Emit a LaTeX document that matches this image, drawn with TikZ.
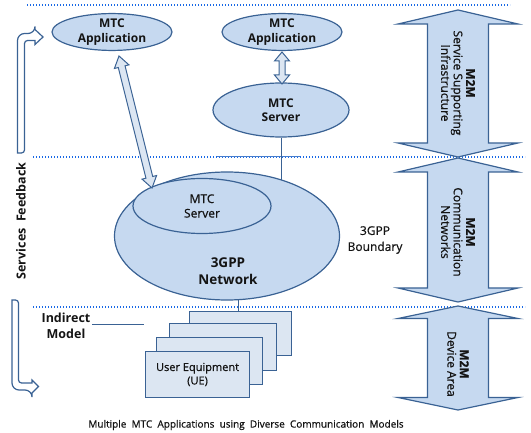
\documentclass[tikz,border=0pt]{standalone}
\usepackage{fontspec}
\setmainfont{Open Sans}
\newfontfamily\medf{Open Sans}[FakeBold=0.7]
\usetikzlibrary{calc,shapes.geometric}
\definecolor{fillA}{RGB}{198,217,240}
\definecolor{fillB}{RGB}{220,230,242}
\definecolor{lineC}{RGB}{58,98,148}
\definecolor{dotC}{RGB}{25,105,230}
\definecolor{segC}{RGB}{70,125,205}
\definecolor{txtC}{RGB}{20,20,20}
\newcommand{\bdarrow}[6][]{%
  \coordinate (ba1) at ($(#2)!#6!(#3)$);
  \coordinate (ba2) at ($(#3)!#6!(#2)$);
  \draw[#1] (#2) -- ($(ba1)!#5!90:(#3)$) -- ($(ba1)!#4!90:(#3)$)
    -- ($(ba2)!#4!-90:(#2)$) -- ($(ba2)!#5!-90:(#2)$) -- (#3)
    -- ($(ba2)!#5!90:(#2)$) -- ($(ba2)!#4!90:(#2)$)
    -- ($(ba1)!#4!-90:(#3)$) -- ($(ba1)!#5!-90:(#3)$) -- cycle;}
\begin{document}
\begin{tikzpicture}[x=1pt,y=-1pt,
  ell/.style={ellipse,draw=lineC,fill=fillA,line width=1.2pt,inner sep=0pt,
    align=center,text=txtC,font=\bfseries\fontsize{12}{14.5}\selectfont},
  uebox/.style={rectangle,draw=lineC,fill=fillB,line width=1.1pt,inner sep=0pt,
    align=center,text=txtC,font=\medf\fontsize{11}{13.5}\selectfont},
  blk/.style={draw=lineC,fill=fillA,line width=1.2pt,line join=miter},
  sblk/.style={draw=lineC,fill=fillB,line width=1pt,line join=miter},
  dotline/.style={dotC,line width=1.5pt,dash pattern=on 1.4pt off 1.6pt},
  conn/.style={lineC,line width=1pt},
  lbl/.style={text=txtC,align=center,inner sep=0pt},
  vlbl/.style={lbl,rotate=-90,font=\medf\fontsize{12}{12.5}\selectfont},
  hollow/.style={draw=lineC,fill=white,line width=1.2pt,line join=miter}]
\useasboundingbox (0,0) rectangle (531,433);

% dotted boundaries
\draw[dotline] (27,5) -- (510,5);
\draw[dotline] (33,157) -- (525,157);
\draw[segC,line width=1pt] (217,157) -- (300,157);
\draw[dotline] (33,307) -- (525,307);

% right block arrows
\coordinate (r1t) at (458,10);  \coordinate (r1b) at (458,157);
\coordinate (r2t) at (458,158); \coordinate (r2b) at (458,302);
\coordinate (r3t) at (458,306); \coordinate (r3b) at (458,410);
\bdarrow[blk]{r1t}{r1b}{30.5pt}{60pt}{14pt}
\bdarrow[blk]{r2t}{r2b}{30.5pt}{60pt}{14pt}
\bdarrow[blk]{r3t}{r3b}{30.5pt}{60pt}{12.5pt}
\node[vlbl] (t1) at (458,83) {\textbf{M2M}\\Service Supporting\\Infrastructure};
\node[vlbl] (t2) at (458,232) {\textbf{M2M}\\Communication\\Networks};
\node[vlbl] (t3) at (458,364) {\textbf{M2M}\\Device Area};

% top ellipses
\node[ell,minimum width=120pt,minimum height=36pt] (app1) at (112,32) {MTC\\Application};
\node[ell,minimum width=120pt,minimum height=36pt] (app2) at (282,32) {MTC\\Application};
\node[ell,minimum width=136pt,minimum height=54pt] (srv1) at (281,110) {MTC\\Server};

% UE stack
\node[uebox,anchor=north west,minimum width=102pt,minimum height=44pt] (ue4) at (189,311) {};
\node[uebox,anchor=north west,minimum width=107pt,minimum height=47pt] (ue3) at (169,323) {};
\node[uebox,anchor=north west,minimum width=106pt,minimum height=47pt] (ue2) at (156,337) {};
\node[uebox,anchor=north west,minimum width=104pt,minimum height=46pt] (ue1) at (145,351) {User Equipment\\(UE)};

% connectors to 3GPP network (drawn under it)
\coordinate (uelink) at (238,311);
\draw[conn] (srv1.south) -- ++(0,60);
\draw[conn] (uelink) -- ++(0,-30);

% 3GPP network
\node[ell,minimum width=225pt,minimum height=128pt] (net) at (227,236) {};
\node[ell,minimum width=138pt,minimum height=55pt,font=\medf\fontsize{12}{14.5}\selectfont] (srv2) at (202,206) {MTC\\Server};
\node[lbl,font=\bfseries\fontsize{13.5}{17}\selectfont] (netl) at (228,271) {3GPP\\Network};
\node[lbl,font=\medf\fontsize{12}{16}\selectfont] (bnd) at (375,240) {3GPP\\Boundary};

% small block double arrows
\coordinate (d1) at (119,56); \coordinate (d2) at (152,188);
\bdarrow[sblk]{d1}{d2}{3.5pt}{7.5pt}{11pt}
\coordinate (v1) at (282,52); \coordinate (v2) at (282,84);
\bdarrow[sblk]{v1}{v2}{3pt}{7.5pt}{9pt}

% indirect model
\node[lbl,font=\bfseries\fontsize{12.5}{16}\selectfont] (ind) at (66,326) {Indirect\\Model};
\coordinate (indend) at (144,325);
\draw[conn] (92,325) -- (indend);

% services feedback
\node[lbl,rotate=90,font=\bfseries\fontsize{12.5}{14}\selectfont] (sf) at (21,221) {Services\ \ Feedback};
\draw[hollow] (17.5,153) [rounded corners=7pt] -- (17.5,33.5) -- (35,33.5) [sharp corners]
  -- (35,29.5) -- (43,37) -- (35,44.5) -- (35,40.5) [rounded corners=3pt] -- (24.5,40.5)
  -- (24.5,153) [sharp corners] -- cycle;
\draw[hollow] (12,300) [rounded corners=7pt] -- (12,390) -- (32,390) [sharp corners]
  -- (32,393) -- (38.5,386.5) -- (32,380) -- (32,383) [rounded corners=3pt] -- (18.5,383)
  -- (18.5,300) [sharp corners] -- cycle;

% caption
\node[lbl,font=\medf\fontsize{10}{12}\selectfont] (cap) at (246,425)
  {Multiple\ \ MTC\ \ Applications\ \ using\ \ Diverse\ \ Communication\ \ Models};
\end{tikzpicture}
\end{document}
